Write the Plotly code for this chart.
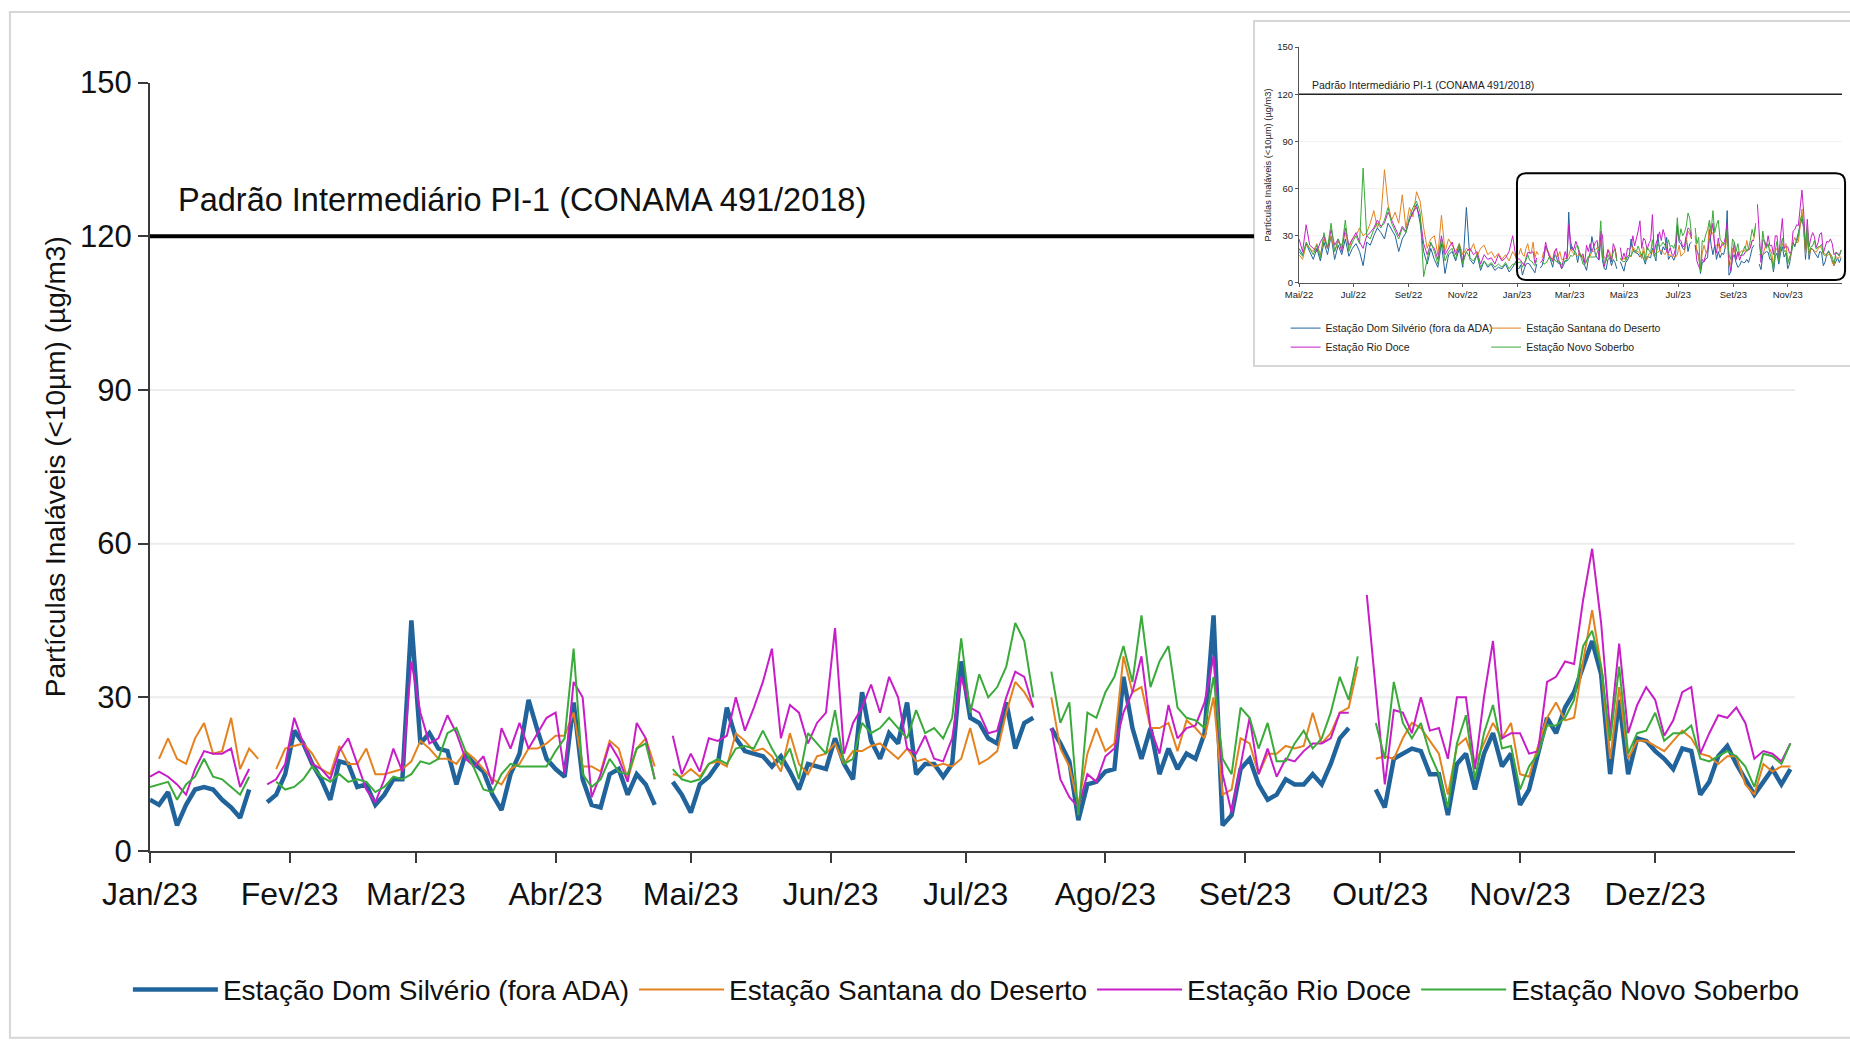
import plotly.graph_objects as go
import pandas as pd

# rótulos dos eixos
meses = ["Jan/23", "Fev/23", "Mar/23", "Abr/23", "Mai/23", "Jun/23",
         "Jul/23", "Ago/23", "Set/23", "Out/23", "Nov/23", "Dez/23"]
meses_inset = ["Mai/22", "Jul/22", "Set/22", "Nov/22", "Jan/23",
               "Mar/23", "Mai/23", "Jul/23", "Set/23", "Nov/23"]

estacoes = ["Estação Dom Silvério (fora ADA)", "Estação Santana do Deserto",
            "Estação Rio Doce", "Estação Novo Soberbo"]
estacoes_inset = ["Estação Dom Silvério (fora da ADA)", "Estação Santana do Deserto",
                  "Estação Rio Doce", "Estação Novo Soberbo"]

padrao_pi1 = 120

# PM10 2023, um valor a cada 2 dias a partir de 01/01/2023 (µg/m3)
dom_silverio = [
    10, 9, 11.5, 5, 9, 12, 12.5, 12, 10, 8.5,
    6.5, 12, None, 9.5, 11, 15, 23.5, 21, 17, 14,
    10, 17.5, 17, 12.5, 13, 9, 11, 14, 14, 45,
    21, 23, 20, 19.5, 13, 19, 17, 15.5, 11, 8,
    15, 19, 29.5, 23.5, 18, 16, 14.5, 29, 14, 9,
    8.5, 15, 16, 11, 15, 13, 9, None, 13.5, 11,
    7.5, 13, 14.5, 17, 28, 22, 19.5, 19, 18.5, 16.5,
    18.5, 15.5, 12, 17, 16.5, 16, 22, 17, 14, 31,
    21.5, 18, 23, 21, 29, 15, 17, 17, 14.5, 17,
    37, 26, 25, 22, 21, 29, 20, 25, 26, None,
    24, 21, 17.5, 6, 13, 13.5, 15.5, 16, 34, 24,
    18, 24, 15, 20, 16, 19, 18, 23, 46, 5,
    7, 16, 18, 13, 10, 11, 14, 13, 13, 15,
    13, 17, 22, 24, None, None, 12, 8.5, 18, 19,
    20, 19.5, 15, 15, 7, 17, 19, 12, 19, 23,
    16.5, 19, 9, 12, 19, 26, 23, 28, 31, 36,
    41, 34.5, 15, 29.5, 15, 22, 21.5, 19.5, 18, 16,
    20, 19.5, 11, 13.5, 18.5, 20.5, 17, 14, 11, 13.5,
    16, 13, 16]
santana = [
    None, 18, 22, 18, 17, 22, 25, 19, 19.5, 26,
    16, 20, 18, None, 16, 20, 20.5, 21, 19, 16,
    15, 20.5, 17, 17, 20, 15, 15, 15.5, 16, 17.5,
    21.5, 20, 18, 18, 17, 19.5, 18, 16, 14, 13,
    16, 17, 20, 20, 21, 22.5, 22.5, 27, 16.5, 16.5,
    15.5, 21.5, 20, 14, 20, 22, 16.5, None, 15, 14.5,
    16, 14.5, 17, 17.5, 16.5, 23, 21.5, 19.5, 20, 18.5,
    15.5, 23, 17, 15, 18.5, 19, 21, 17, 19.5, 19.5,
    20.5, 21, 19.5, 18, 20, 17.5, 18, 16.5, 17, 16.5,
    18, 24, 17, 18, 19.5, 27, 33, 31, 28, None,
    30, 20, 16.5, 9, 19, 24, 19.5, 21, 38, 31,
    32, 24, 24, 25, 19.5, 25.5, 24, 22, 30, 11,
    12, 22, 21, 15, 19, 19, 20.5, 20, 20.5, 27,
    21, 23, 27, 28, 36, None, 18, 18.5, 18, 22,
    25, 24, 21.5, 19, 11, 20.5, 22, 17, 21, 25,
    22, 25, 15, 14.5, 20.5, 26, 29, 25.5, 26, 37,
    47, 36, 18, 32, 18, 21.5, 21.5, 20.5, 19.5, 21.5,
    23.5, 22, 19, 18.5, 17, 18.5, 18.5, 13, 11, 17,
    15.5, 16.5, 16.5]
rio_doce = [
    14.5, 15.5, 14.5, 13, 11, 16, 19.5, 19, 19, 20,
    12.5, 16, None, 13, 14, 17, 26, 21, 17, 16,
    14, 19.5, 22, 17, 12, 9.5, 14, 20, 15.5, 37,
    27, 21, 22, 26.5, 23, 18, 16.5, 18.5, 13, 24,
    20, 25, 20, 23, 26, 27, 15, 33, 30, 10.5,
    15, 21, 18, 13.5, 25, 22, 14, None, 22.5, 15,
    19, 15.5, 22, 21.5, 22.5, 30, 23.5, 28, 33, 39.5,
    22, 28.5, 27, 21, 25, 27, 43.5, 19, 25, 28,
    32.5, 27, 34, 30, 20, 19, 22.5, 18, 17.5, 22,
    34, 28, 27, 23, 23.5, 30, 35, 34, 28, None,
    24, 14, 10.5, 8.5, 15, 13.5, 18.5, 20, 27, 31,
    38, 24, 19, 28.5, 22, 24, 24.5, 29, 38, 15,
    7.5, 17, 26, 15, 20, 14.5, 18, 17.5, 19.5, 21,
    21, 22, 27, 27, None, 50, 32, 13, 27.5, 27,
    23, 30, 23.5, 24, 18, 30, 30, 16, 30, 41,
    22, 23, 23, 19, 19.5, 33, 34, 37, 36.5, 49,
    59, 44.5, 23, 40.5, 23, 28.5, 32, 29.5, 22.5, 25.5,
    31, 32, 19, 23, 26.5, 26, 28, 25, 18, 19.5,
    19, 17.5, 21]
novo_soberbo = [
    12.5, 13, 13.5, 10, 13, 14.5, 18, 14.5, 14, 12.5,
    11, 14.5, None, None, 13.5, 12, 12.5, 14, 16.5, 14.5,
    13.5, 15, 13.5, 14, 13.5, 11.5, 12.5, 14.5, 14, 15,
    17.5, 17, 18, 23, 24, 19.5, 16, 12, 11.5, 15,
    17, 16.5, 16.5, 16.5, 16.5, 19.5, 22, 39.5, 15, 12.5,
    14, 18, 15.5, 15, 20, 21, 14, None, 16, 14,
    13.5, 14, 17, 18, 17, 20, 20.5, 20, 23.5, 20,
    17, 20, 14, 23, 21, 19, 27.5, 17, 18, 25,
    23, 24, 26, 24, 22, 27.5, 23, 24, 22, 26,
    41.5, 27, 34.5, 30, 32, 36, 44.5, 41, 30, None,
    35, 25, 29, 7, 27, 26, 31, 34, 40, 33,
    46, 32, 37, 40, 28, 26, 25.5, 24, 34, 18,
    15, 28, 26, 20, 25, 17.5, 17.5, 21, 23.5, 20,
    22, 27, 34, 29.5, 38, None, 25, 18, 33, 25,
    22, 25, 19, 15, 8.5, 21, 26.5, 14, 23, 28.5,
    20, 20.5, 12, 16.5, 19, 24.5, 24.5, 26, 29.5, 40,
    43, 36, 21.5, 36, 19, 23, 23.5, 27, 21.5, 23,
    23, 24.5, 18, 17.5, 18.5, 19.5, 18.5, 16.5, 12.5, 19,
    18.5, 17, 21]

# gráfico pequeno: mai-dez/2022, um valor a cada 4 dias a partir de 01/05/2022
dom_silverio_22 = [
    22, 18, 25, 20, 15, 22, 14, 26, 18, 30,
    15, 24, 18, 28, 17, 22, 25, 20, 11, 26,
    24, 30, 35, 32, 28, 38, 34, 30, 20, 28,
    32, 40, 45, 50, 38, 20, 12, 22, 15, 10,
    25, 6, 18, 20, 14, 22, 10, 48, 15, 12,
    18, 8, 14, 10, 12, 8, 10, 9, 12, 7,
    10, 14]
santana_22 = [
    18, 15, 24, 22, 20, 25, 18, 28, 22, 30,
    20, 26, 24, 32, 22, 28, 30, 35, 30, 32,
    38, 46, 35, 42, 72, 50, 40, 45, 38, 56,
    35, 48, 42, 58, 52, 35, 22, 28, 30, 18,
    43, 20, 28, 24, 20, 25, 18, 22, 20, 25,
    17, 22, 24, 18, 20, 16, 19, 15, 18, 14,
    20, 16]
rio_doce_22 = [
    28, 20, 37, 24, 22, 20, 26, 30, 22, 34,
    24, 28, 20, 35, 24, 28, 32, 26, 22, 30,
    32, 35, 40, 36, 38, 45, 40, 35, 30, 36,
    33, 40, 45, 48, 42, 25, 18, 25, 22, 15,
    30, 18, 22, 26, 18, 24, 14, 20, 22, 18,
    20, 12, 18, 15, 16, 12, 18, 14, 16, 20,
    30, 15]
novo_soberbo_22 = [
    20, 17, 26, 22, 18, 24, 16, 32, 22, 38,
    20, 28, 22, 40, 20, 26, 30, 25, 73, 30,
    28, 34, 38, 35, 40, 48, 38, 33, 28, 35,
    32, 42, 48, 52, 45, 4, 15, 26, 20, 12,
    28, 14, 20, 22, 15, 25, 12, 20, 16, 14,
    18, 10, 14, 11, 13, 10, 12, 10, 13, 9,
    12, 12]

series = [dom_silverio, santana, rio_doce, novo_soberbo]
series_22 = [dom_silverio_22, santana_22, rio_doce_22, novo_soberbo_22]
for s in series:
    assert len(s) == 183, len(s)
for s in series_22:
    assert len(s) == 62, len(s)

cores = ["#21649c", "#e4821f", "#c81ec8", "#3aaa3a"]
larguras = [4.5, 2, 2, 2]
# legendas do gráfico pequeno: duas colunas
legenda_inset = ["legend2", "legend3", "legend2", "legend3"]
FONTE = "Liberation Sans, Arial, sans-serif"

datas = pd.date_range("2023-01-01", periods=183, freq="2D")
datas_22 = pd.date_range("2022-05-01", periods=62, freq="4D")
datas_inset = list(datas_22) + list(datas)

fig = go.Figure()

for nome, vals, cor, lw in zip(estacoes, series, cores, larguras):
    fig.add_trace(go.Scatter(x=datas, y=vals, mode="lines", name=nome,
                             line=dict(color=cor, width=lw),
                             xaxis="x", yaxis="y", legend="legend"))

for nome, v22, vals, cor, lg in zip(estacoes_inset, series_22, series, cores, legenda_inset):
    fig.add_trace(go.Scatter(x=datas_inset, y=v22 + vals, mode="lines", name=nome,
                             line=dict(color=cor, width=1),
                             xaxis="x2", yaxis="y2", legend=lg))

ticks_main = [pd.Timestamp(2023, m, 1) for m in range(1, 13)]
ticks_inset = pd.date_range("2022-05-01", periods=10, freq="2MS")

shapes = []
# moldura externa
shapes.append(dict(type="rect", xref="paper", yref="paper", x0=-0.0824, x1=1.02,
                   y0=-0.222, y1=0.9976, line=dict(color="#d6d6d6", width=2),
                   layer="below"))
# grade principal
for g in [30, 60, 90]:
    shapes.append(dict(type="line", xref="x domain", yref="y", x0=0, x1=1, y0=g, y1=g,
                       line=dict(color="#ececec", width=2), layer="below"))
# caixa do gráfico pequeno
shapes.append(dict(type="rect", xref="paper", yref="paper", x0=0.6494, x1=1.02,
                   y0=0.5767, y1=0.9869, fillcolor="white",
                   line=dict(color="#d6d6d6", width=2), layer="below"))
for g in [30, 60, 90]:
    shapes.append(dict(type="line", xref="x2 domain", yref="y2", x0=0, x1=1, y0=g, y1=g,
                       line=dict(color="#f0f0f0", width=1), layer="below"))
# linha do padrão
shapes.append(dict(type="line", xref="paper", yref="y", x0=0, x1=0.6494,
                   y0=padrao_pi1, y1=padrao_pi1, line=dict(color="black", width=4)))
shapes.append(dict(type="line", xref="x2 domain", yref="y2", x0=0, x1=1,
                   y0=padrao_pi1, y1=padrao_pi1, line=dict(color="#222", width=1.5)))
# destaque arredondado (2023)
x0, x1, y0, y1 = 0.8041, 0.9971, 0.679, 0.806
rx, ry = 0.0055, 0.0110
path = (f"M {x0+rx},{y0} L {x1-rx},{y0} Q {x1},{y0} {x1},{y0+ry} "
        f"L {x1},{y1-ry} Q {x1},{y1} {x1-rx},{y1} L {x0+rx},{y1} "
        f"Q {x0},{y1} {x0},{y1-ry} L {x0},{y0+ry} Q {x0},{y0} {x0+rx},{y0} Z")
shapes.append(dict(type="path", xref="paper", yref="paper", path=path,
                   line=dict(color="black", width=2)))

leg_inset = dict(orientation="v", yanchor="top", xanchor="left", y=0.639,
                 font=dict(size=10.5, color="#222"), bgcolor="rgba(0,0,0,0)",
                 tracegroupgap=0, itemwidth=30)

fig.update_layout(
    width=1850, height=1047,
    margin=dict(l=150, r=0, t=10, b=196, autoexpand=False),
    paper_bgcolor="white", plot_bgcolor="rgba(0,0,0,0)",
    font=dict(family=FONTE, color="#111"),
    shapes=shapes,
    xaxis=dict(domain=[0, 0.9676], range=["2023-01-01", "2024-01-01"],
               tickvals=ticks_main, ticktext=meses, anchor="y", tickangle=0,
               showline=True, linecolor="#3a3a3a", linewidth=2,
               ticks="outside", ticklen=10, tickwidth=2, tickcolor="#3a3a3a",
               tickfont=dict(size=32, color="#111"), ticklabelstandoff=4,
               showgrid=False, zeroline=False),
    yaxis=dict(domain=[0, 0.9137], range=[0, 150], tickvals=[0, 30, 60, 90, 120, 150],
               anchor="x", showline=True, linecolor="#3a3a3a", linewidth=2,
               ticks="outside", ticklen=10, tickwidth=2, tickcolor="#3a3a3a",
               tickfont=dict(size=31, color="#111"), ticklabelstandoff=0,
               showgrid=False, zeroline=False,
               title=dict(text="Partículas Inaláveis (<10µm) (µg/m3)",
                          font=dict(size=28, color="#111"), standoff=6)),
    xaxis2=dict(domain=[0.6759, 0.9953], range=["2022-05-01", "2024-01-01"],
                tickvals=ticks_inset, ticktext=meses_inset, anchor="y2", tickangle=0,
                showline=True, linecolor="#555", linewidth=1,
                ticks="outside", ticklen=3, tickcolor="#555",
                tickfont=dict(size=9.5, color="#222"),
                showgrid=False, zeroline=False),
    yaxis2=dict(domain=[0.6754, 0.956], range=[0, 150], tickvals=[0, 30, 60, 90, 120, 150],
                anchor="x2", showline=True, linecolor="#555", linewidth=1,
                ticks="outside", ticklen=3, tickcolor="#555",
                tickfont=dict(size=9.5, color="#222"),
                showgrid=False, zeroline=False,
                title=dict(text="Partículas Inaláveis (<10µm) (µg/m3)",
                           font=dict(size=9.3, color="#222"), standoff=4)),
    legend=dict(orientation="h", x=-0.013, xanchor="left", y=-0.165, yanchor="middle",
                font=dict(size=28, color="#111"), bgcolor="rgba(0,0,0,0)",
                itemwidth=85),
    legend2=dict(leg_inset, x=0.668),
    legend3=dict(leg_inset, x=0.786),
    annotations=[
        dict(text="Padrão Intermediário PI-1 (CONAMA 491/2018)", xref="paper", yref="y",
             x=0.0155, y=127, xanchor="left", yanchor="middle", showarrow=False,
             font=dict(size=32.5, color="#111")),
        dict(text="Padrão Intermediário PI-1 (CONAMA 491/2018)", xref="paper", yref="y2",
             x=0.6824, y=126, xanchor="left", yanchor="middle", showarrow=False,
             font=dict(size=10.5, color="#222")),
    ],
)

fig.write_html("out.html", config={"displayModeBar": False},
               post_script="document.body.style.margin='0';document.body.style.overflow='hidden';")
